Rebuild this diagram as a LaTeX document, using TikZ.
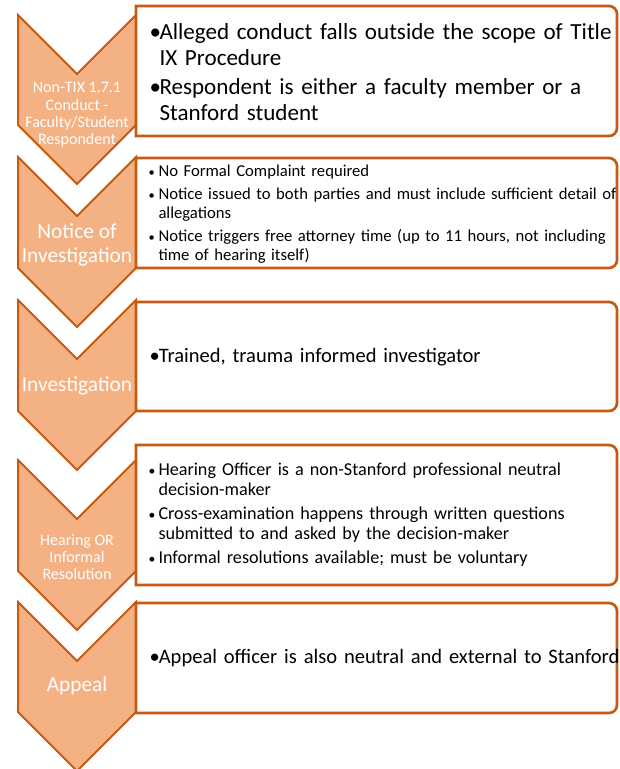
\documentclass[tikz,border=0pt]{standalone}
\usepackage{fontspec}
\setmainfont{Carlito}

% bullet paragraphs with a hanging indent
\newlength{\bulind}
\newcommand{\bulsym}{\textbullet}
\newcommand{\bpt}[1]{\hangindent=\bulind\hangafter=1\noindent\makebox[\bulind][l]{\bulsym}#1\par}

\tikzset{every picture/.style={line width=0.75pt}}
\tikzset{
  chev/.style={draw={rgb, 255:red, 197; green, 90; blue, 17 }, fill={rgb, 255:red, 244; green, 177; blue, 131 }, line width=1.5pt, line join=miter},
  panel/.style={draw={rgb, 255:red, 197; green, 90; blue, 17 }, fill=white, line width=2pt},
  chevlbl/.style={text=white, align=center, inner sep=0.75pt},
  paneltxt/.style={anchor=west, inner sep=0pt, text width=354pt, align=left, text=black}
}

\begin{document}
\begin{tikzpicture}[x=0.75pt,y=0.75pt,yscale=-1,xscale=1]
\useasboundingbox (0,0) rectangle (619,769);

%Shape: Chevron
\draw [chev] (18,15) -- (77,74) -- (136,15) -- (136,125) -- (77,184) -- (18,125) -- cycle ;
%Shape: Chevron
\draw [chev] (18,157) -- (77,216) -- (136,157) -- (136,268) -- (77,327) -- (18,268) -- cycle ;
%Shape: Chevron
\draw [chev] (18,300) -- (77,359) -- (136,300) -- (136,411) -- (77,470) -- (18,411) -- cycle ;
%Shape: Chevron
\draw [chev] (18,460) -- (77,519) -- (136,460) -- (136,571) -- (77,630) -- (18,571) -- cycle ;
%Shape: Chevron
\draw [chev] (18,602) -- (77,661) -- (136,602) -- (136,712) -- (77,771) -- (18,712) -- cycle ;

%Shape: Panel
\draw [panel] (136,6) -- (609,6) arc[start angle=-90, end angle=0, radius=8] -- (617,128) arc[start angle=0, end angle=90, radius=8] -- (136,136) -- cycle ;
%Shape: Panel
\draw [panel] (136,158) -- (609,158) arc[start angle=-90, end angle=0, radius=8] -- (617,260) arc[start angle=0, end angle=90, radius=8] -- (136,268) -- cycle ;
%Shape: Panel
\draw [panel] (136,302) -- (609,302) arc[start angle=-90, end angle=0, radius=8] -- (617,403) arc[start angle=0, end angle=90, radius=8] -- (136,411) -- cycle ;
%Shape: Panel
\draw [panel] (136,445) -- (609,445) arc[start angle=-90, end angle=0, radius=8] -- (617,577) arc[start angle=0, end angle=90, radius=8] -- (136,585) -- cycle ;
%Shape: Panel
\draw [panel] (136,603) -- (609,603) arc[start angle=-90, end angle=0, radius=8] -- (617,705) arc[start angle=0, end angle=90, radius=8] -- (136,713) -- cycle ;

% Text Node
\draw (77,115) node [chevlbl, font=\fontsize{12}{13}\selectfont] (lblConduct) {Non-TIX 1.7.1\\Conduct -\\Faculty/Student\\Respondent};
% Text Node
\draw (77,245) node [chevlbl, font=\fontsize{16}{18}\selectfont] (lblNotice) {Notice of\\Investigation};
% Text Node
\draw (77,386) node [chevlbl, font=\fontsize{16}{18}\selectfont] (lblInvest) {Investigation};
% Text Node
\draw (77,557) node [chevlbl, font=\fontsize{12}{13}\selectfont] (lblHearing) {Hearing OR\\Informal\\Resolution};
% Text Node
\draw (77,686) node [chevlbl, font=\fontsize{16}{18}\selectfont] (lblAppeal) {Appeal};

% Text Node
\draw (149,72) node [paneltxt, font=\fontsize{17.3}{19.5}\selectfont] (txtConduct) {\setlength{\parskip}{2.5pt}\setlength{\bulind}{7.5pt}%
\bpt{Alleged conduct falls outside the scope of Title\newline IX Procedure}%
\bpt{Respondent is either a faculty member or a\newline Stanford student}};
% Text Node
\draw (148,214) node [paneltxt, font=\fontsize{12.5}{14.3}\selectfont] (txtNotice) {\setlength{\parskip}{3pt}\setlength{\bulind}{7.5pt}%
\renewcommand{\bulsym}{\scalebox{0.75}{\textbullet}}%
\bpt{No Formal Complaint required}%
\bpt{Notice issued to both parties and must include sufficient detail of\newline allegations}%
\bpt{Notice triggers free attorney time (up to 11 hours, not including\newline time of hearing itself)}};
% Text Node
\draw (149,357) node [paneltxt, font=\fontsize{15.4}{17.5}\selectfont] (txtInvest) {\setlength{\bulind}{7pt}%
\bpt{Trained, trauma informed investigator}};
% Text Node
\draw (148,515) node [paneltxt, font=\fontsize{13.6}{15}\selectfont] (txtHearing) {\setlength{\parskip}{3pt}\setlength{\bulind}{7.5pt}%
\renewcommand{\bulsym}{\scalebox{0.75}{\textbullet}}%
\bpt{Hearing Officer is a non-Stanford professional neutral\newline decision-maker}%
\bpt{Cross-examination happens through written questions\newline submitted to and asked by the decision-maker}%
\bpt{Informal resolutions available; must be voluntary}};
% Text Node
\draw (149,658) node [paneltxt, font=\fontsize{15.4}{17.5}\selectfont] (txtAppeal) {\setlength{\bulind}{7pt}%
\bpt{Appeal officer is also neutral and external to Stanford}};

\end{tikzpicture}
\end{document}
